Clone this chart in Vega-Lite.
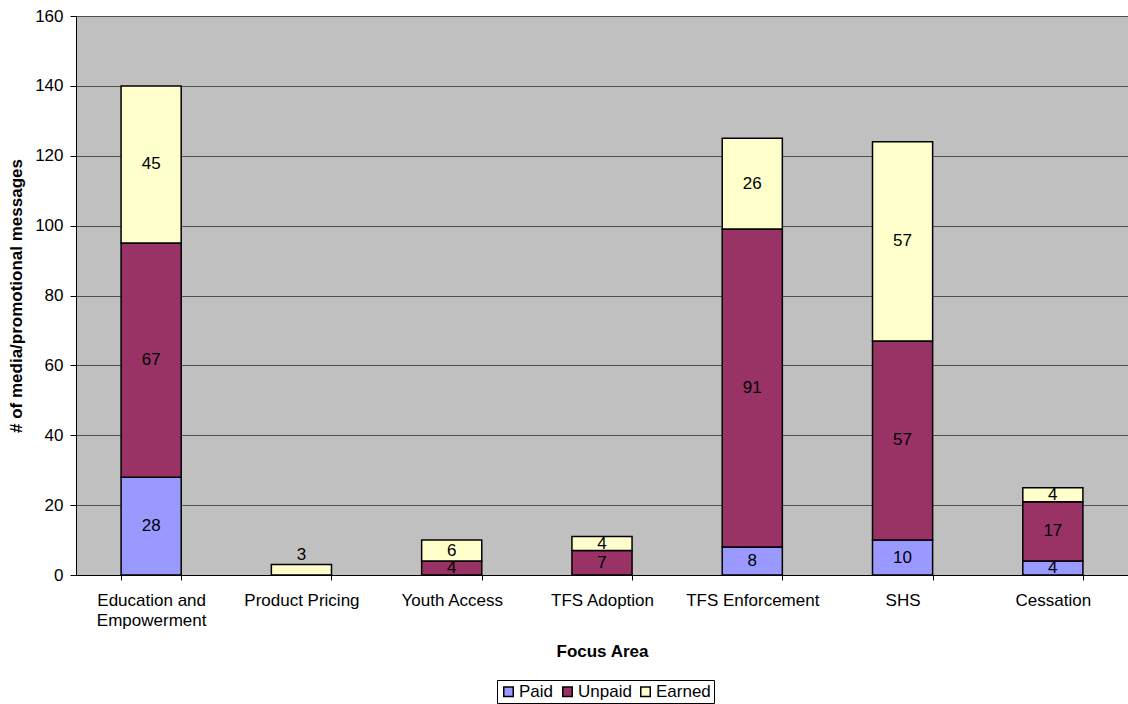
{
  "$schema": "https://vega.github.io/schema/vega-lite/v6.json",
  "width": 1052,
  "height": 559,
  "autosize": {"type": "none"},
  "padding": {"left": 76, "top": 16, "right": 0, "bottom": 129},
  "background": "white",
  "config": {
    "font": "Liberation Sans",
    "view": {"fill": "#C0C0C0", "stroke": "#808080", "strokeWidth": 1}
  },
  "data": {
    "values": [
      {"area": "Education and Empowerment", "type": "Paid", "n": 28},
      {"area": "Education and Empowerment", "type": "Unpaid", "n": 67},
      {"area": "Education and Empowerment", "type": "Earned", "n": 45},
      {"area": "Product Pricing", "type": "Earned", "n": 3},
      {"area": "Youth Access", "type": "Unpaid", "n": 4},
      {"area": "Youth Access", "type": "Earned", "n": 6},
      {"area": "TFS Adoption", "type": "Unpaid", "n": 7},
      {"area": "TFS Adoption", "type": "Earned", "n": 4},
      {"area": "TFS Enforcement", "type": "Paid", "n": 8},
      {"area": "TFS Enforcement", "type": "Unpaid", "n": 91},
      {"area": "TFS Enforcement", "type": "Earned", "n": 26},
      {"area": "SHS", "type": "Paid", "n": 10},
      {"area": "SHS", "type": "Unpaid", "n": 57},
      {"area": "SHS", "type": "Earned", "n": 57},
      {"area": "Cessation", "type": "Paid", "n": 4},
      {"area": "Cessation", "type": "Unpaid", "n": 17},
      {"area": "Cessation", "type": "Earned", "n": 4}
    ]
  },
  "transform": [
    {"calculate": "indexof(['Paid','Unpaid','Earned'], datum.type)", "as": "rank"},
    {"stack": "n", "groupby": ["area"], "sort": [{"field": "rank", "order": "ascending"}], "as": ["lo", "hi"]},
    {"calculate": "(datum.lo + datum.hi) / 2", "as": "mid"}
  ],
  "encoding": {
    "x": {
      "field": "area",
      "type": "nominal",
      "sort": ["Education and Empowerment", "Product Pricing", "Youth Access", "TFS Adoption", "TFS Enforcement", "SHS", "Cessation"],
      "scale": {"paddingInner": 0.6, "paddingOuter": 0.3},
      "axis": {
        "title": "Focus Area",
        "titleFontSize": 17,
        "titleFontWeight": "bold",
        "titleColor": "black",
        "titlePadding": 15,
        "labelAngle": 0,
        "labelFontSize": 17,
        "labelColor": "black",
        "labelPadding": 12,
        "labelLineHeight": 20,
        "labelExpr": "datum.label == 'Education and Empowerment' ? ['Education and', 'Empowerment'] : datum.label",
        "tickBand": "extent",
        "tickColor": "black",
        "tickSize": 5,
        "domainColor": "black",
        "domainWidth": 1,
        "grid": false
      }
    }
  },
  "layer": [
    {
      "mark": {"type": "bar", "stroke": "black", "strokeWidth": 1.5},
      "encoding": {
        "y": {
          "field": "lo",
          "type": "quantitative",
          "scale": {"domain": [0, 160], "nice": false},
          "axis": {
            "title": "# of media/promotional messages",
            "titleFontSize": 17,
            "titleFontWeight": "bold",
            "titleColor": "black",
            "titlePadding": 9,
            "values": [0, 20, 40, 60, 80, 100, 120, 140, 160],
            "labelFontSize": 17,
            "labelColor": "black",
            "labelPadding": 7,
            "tickColor": "black",
            "tickSize": 6,
            "domainColor": "black",
            "grid": true,
            "gridColor": "#505050",
            "gridWidth": 1
          }
        },
        "y2": {"field": "hi"},
        "color": {
          "field": "type",
          "type": "nominal",
          "sort": ["Paid", "Unpaid", "Earned"],
          "scale": {"domain": ["Paid", "Unpaid", "Earned"], "range": ["#9999FF", "#993366", "#FFFFCC"]},
          "legend": {
            "title": null,
            "orient": "none",
            "legendX": 421,
            "legendY": 664,
            "direction": "horizontal",
            "strokeColor": "black",
            "padding": 3,
            "symbolType": "square",
            "symbolSize": 90,
            "symbolStrokeColor": "black",
            "symbolStrokeWidth": 1.5,
            "labelFontSize": 17,
            "labelColor": "black",
            "labelOffset": 2,
            "columnPadding": 5
          }
        }
      }
    },
    {
      "transform": [{"filter": "datum.area != 'Product Pricing'"}],
      "mark": {"type": "text", "fontSize": 17, "color": "black", "baseline": "middle"},
      "encoding": {
        "y": {"field": "mid", "type": "quantitative"},
        "text": {"field": "n", "type": "quantitative"}
      }
    },
    {
      "transform": [{"filter": "datum.area == 'Product Pricing'"}],
      "mark": {"type": "text", "fontSize": 17, "color": "black", "baseline": "alphabetic", "dy": -5},
      "encoding": {
        "y": {"field": "hi", "type": "quantitative"},
        "text": {"field": "n", "type": "quantitative"}
      }
    }
  ]
}
